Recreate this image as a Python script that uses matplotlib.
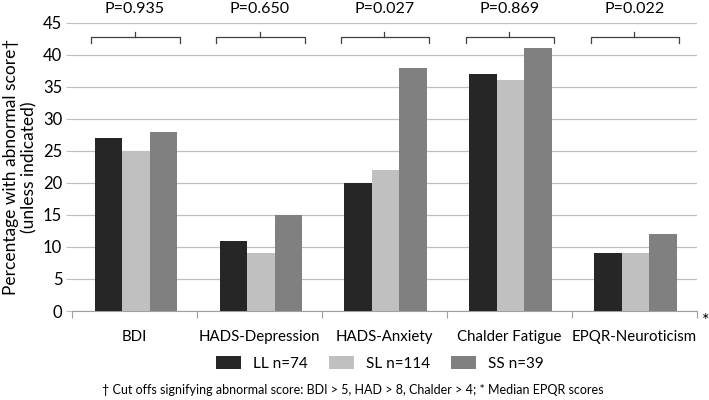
import matplotlib.pyplot as plt
import numpy as np

plt.rcParams['font.family'] = ['Lato', 'DejaVu Sans']

# Data
categories = ['BDI', 'HADS-Depression', 'HADS-Anxiety', 'Chalder Fatigue', 'EPQR-Neuroticism']
LL = [27, 11, 20, 37, 9]
SL = [25, 9, 22, 36, 9]
SS = [28, 15, 38, 41, 12]
series_names = ['LL n=74', 'SL n=114', 'SS n=39']
p_values = ['P=0.935', 'P=0.650', 'P=0.027', 'P=0.869', 'P=0.022']

colors = ['#262626', '#c0c0c0', '#808080']

fig = plt.figure(figsize=(7.09, 4.0), dpi=100)
ax = fig.add_axes([0.1016, 0.2225, 0.8814, 0.7208])

x = np.arange(len(categories))
w = 0.22
for i, (vals, name) in enumerate(zip([LL, SL, SS], series_names)):
    ax.bar(x + (i - 1) * w + 0.01, vals, width=w, color=colors[i], label=name, zorder=3)

ax.set_xlim(-0.5, len(categories) - 0.5)
ax.set_ylim(0, 45)
ax.set_yticks(range(0, 46, 5))
ax.yaxis.grid(True, color='#bfbfbf', linewidth=0.9, zorder=0)
ax.tick_params(axis='y', length=4, color='#bfbfbf', labelsize=12, pad=3)

# category ticks at boundaries, labels in the middle
ax.set_xticks(np.arange(-0.5, len(categories), 1.0))
ax.set_xticklabels([])
ax.set_xticks(x, minor=True)
ax.set_xticklabels(categories, minor=True, fontsize=10.8)
ax.tick_params(axis='x', which='major', length=5, color='#a0a0a0', direction='out')
ax.tick_params(axis='x', which='minor', length=0, pad=14)

for s in ['top', 'right', 'left']:
    ax.spines[s].set_visible(False)
ax.spines['bottom'].set_color('#a0a0a0')

# brackets and p-values
for xi, p in zip(x, p_values):
    l, r = xi - 0.35, xi + 0.36
    ax.plot([l, l, r, r], [41.9, 42.8, 42.8, 41.9], color='#404040', lw=0.9, clip_on=False)
    ax.plot([xi, xi], [42.8, 43.5], color='#404040', lw=0.9, clip_on=False)
    ax.text(xi, 47.1, p, ha='center', va='center', fontsize=11.5, clip_on=False)

ax.text(4.57, -1.6, '*', fontsize=13, ha='center', va='center', clip_on=False)

ax.set_ylabel('Percentage with abnormal score†\n(unless indicated)', fontsize=12.5, labelpad=4)

fig.legend(loc='center', bbox_to_anchor=(0.536, 0.092), ncol=3, frameon=False,
           fontsize=11, handlelength=1.6, handleheight=0.9, handletextpad=0.8,
           columnspacing=1.4)

fig.text(0.497, 0.025, '† Cut offs signifying abnormal score: BDI > 5, HAD > 8, Chalder > 4; * Median EPQR scores',
         ha='center', va='center', fontsize=9)

fig.savefig('out.png', dpi=100)
